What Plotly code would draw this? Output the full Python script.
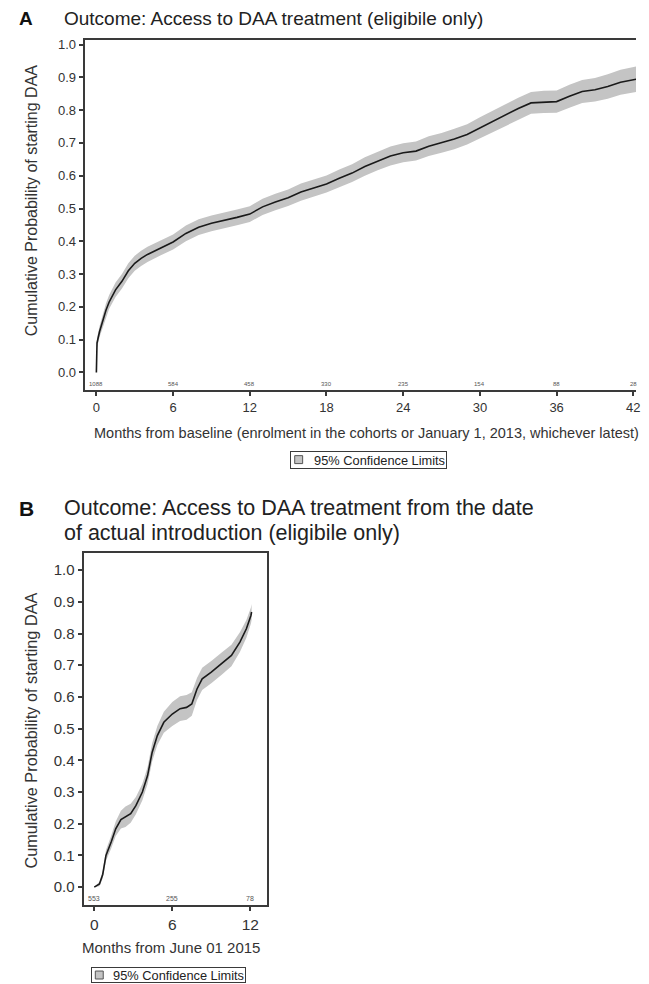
import plotly.graph_objects as go

# ---------------- Panel A data ----------------
a_months = [0, 0.05, 0.25, 0.5, 0.75, 1, 1.5, 2, 2.5, 3, 3.5, 4, 5, 6, 7, 8, 9, 10, 11, 12,
            13, 14, 15, 16, 17, 18, 19, 20, 21, 22, 23, 24, 25, 26, 27, 28, 29, 30, 31, 32,
            33, 34, 35, 36, 37, 38, 39, 40, 41, 42, 42.6]
a_est = [0, 0.09, 0.125, 0.158, 0.19, 0.215, 0.252, 0.278, 0.31, 0.333, 0.348, 0.36, 0.38, 0.398,
         0.424, 0.443, 0.455, 0.463, 0.473, 0.483, 0.505, 0.52, 0.533, 0.55, 0.562, 0.575, 0.592,
         0.608, 0.628, 0.645, 0.66, 0.67, 0.675, 0.69, 0.70, 0.712, 0.726, 0.746, 0.765, 0.785,
         0.805, 0.822, 0.825, 0.826, 0.842, 0.857, 0.862, 0.872, 0.885, 0.893, 0.897]
a_lower = [0, 0.075, 0.108, 0.138, 0.17, 0.194, 0.23, 0.256, 0.287, 0.31, 0.325, 0.337, 0.357, 0.375,
           0.4, 0.419, 0.431, 0.439, 0.449, 0.459, 0.48, 0.495, 0.508, 0.524, 0.536, 0.549, 0.565,
           0.581, 0.6, 0.617, 0.631, 0.641, 0.646, 0.66, 0.67, 0.681, 0.695, 0.714, 0.733, 0.752,
           0.772, 0.789, 0.791, 0.792, 0.807, 0.822, 0.826, 0.835, 0.847, 0.855, 0.858]
a_upper = [0, 0.105, 0.142, 0.178, 0.21, 0.236, 0.274, 0.3, 0.333, 0.356, 0.371, 0.383, 0.403, 0.421,
           0.448, 0.467, 0.479, 0.487, 0.497, 0.507, 0.53, 0.545, 0.558, 0.576, 0.588, 0.601, 0.619,
           0.635, 0.656, 0.673, 0.689, 0.699, 0.704, 0.72, 0.73, 0.743, 0.757, 0.778, 0.797, 0.818,
           0.838, 0.855, 0.859, 0.86, 0.877, 0.892, 0.898, 0.909, 0.923, 0.931, 0.936]
a_risk_months = [0, 6, 12, 18, 24, 30, 36, 42]
a_risk_n = [1088, 584, 458, 330, 235, 154, 88, 28]

# ---------------- Panel B data ----------------
b_months = [0, 0.4, 0.65, 0.9, 1.3, 1.65, 2.05, 2.4, 2.8, 3.2, 3.7, 4.1, 4.45, 4.85, 5.35, 6.0,
            6.6, 7.1, 7.5, 7.9, 8.3, 9.0, 9.8, 10.55, 11.2, 11.7, 12.05, 12.1]
b_est = [0, 0.01, 0.04, 0.1, 0.142, 0.184, 0.213, 0.221, 0.232, 0.257, 0.30, 0.352, 0.425, 0.478,
         0.52, 0.546, 0.563, 0.567, 0.578, 0.625, 0.657, 0.678, 0.705, 0.731, 0.773, 0.815, 0.857, 0.868]
b_lower = [0, 0.003, 0.028, 0.083, 0.122, 0.161, 0.185, 0.19, 0.203, 0.23, 0.274, 0.325, 0.396, 0.448,
           0.487, 0.508, 0.524, 0.528, 0.541, 0.59, 0.622, 0.643, 0.67, 0.697, 0.742, 0.787, 0.832, 0.843]
b_upper = [0, 0.017, 0.052, 0.117, 0.162, 0.207, 0.241, 0.254, 0.263, 0.284, 0.326, 0.379, 0.454, 0.508,
           0.553, 0.584, 0.602, 0.606, 0.615, 0.66, 0.692, 0.713, 0.74, 0.765, 0.804, 0.843, 0.882, 0.893]
b_risk_months = [0, 6, 12]
b_risk_n = [553, 255, 78]

# ---------------- Tick labels / texts ----------------
y_tick_vals = [0.0, 0.1, 0.2, 0.3, 0.4, 0.5, 0.6, 0.7, 0.8, 0.9, 1.0]
a_x_ticks = [0, 6, 12, 18, 24, 30, 36, 42]
b_x_ticks = [0, 6, 12]
a_title = "Outcome: Access to DAA treatment (eligibile only)"
b_title_lines = ["Outcome: Access to DAA treatment from the date",
                 "of actual introduction (eligibile only)"]
y_title = "Cumulative Probability of starting DAA"
a_x_title = "Months from baseline (enrolment in the cohorts or January 1, 2013, whichever latest)"
b_x_title = "Months from June 01 2015"
ci_name = "95% Confidence Limits"

# the page has an 8px body margin; positions below are given in window pixels
OFF = 8
W, H = 649 - 2 * OFF, 984 - OFF
FONT = "Liberation Sans, Arial, Helvetica, sans-serif"
AXC = "#3a3a3a"
BAND = "#c4c4c4"


def px(x):
    return (x - OFF) / W


def py(y):
    return 1 - (y - OFF) / H


fig = go.Figure()


def add_panel(months, est, lo, hi, xa, ya):
    fig.add_trace(go.Scatter(x=months, y=lo, mode="lines", line=dict(width=0, color=BAND),
                             showlegend=False, hoverinfo="skip", xaxis=xa, yaxis=ya))
    fig.add_trace(go.Scatter(x=months, y=hi, mode="lines", line=dict(width=0, color=BAND),
                             fill="tonexty", fillcolor=BAND, name=ci_name, showlegend=False,
                             xaxis=xa, yaxis=ya))
    fig.add_trace(go.Scatter(x=months, y=est, mode="lines", line=dict(width=1.6, color="#1a1a1a"),
                             name="Cumulative probability", showlegend=False, xaxis=xa, yaxis=ya))


add_panel(a_months, a_est, a_lower, a_upper, "x", "y")
add_panel(b_months, b_est, b_lower, b_upper, "x2", "y2")

a_yrange = [-0.052, 1.015]
b_yrange = [-0.055, 1.054]

axis_common = dict(showline=True, linecolor=AXC, linewidth=1.5,
                   ticks="outside", ticklen=5, tickwidth=1.5, tickcolor=AXC,
                   showgrid=False, zeroline=False, color="#333")

fig.update_layout(
    width=W, height=H,
    margin=dict(l=0, r=0, t=0, b=0),
    paper_bgcolor="white", plot_bgcolor="white",
    font=dict(family=FONT, color="#333"),
    showlegend=False,
    # panel A runs off the right edge of the picture, so no right-hand frame line
    xaxis=dict(domain=[px(86), 1.0], range=[-0.86, 42.21], tickvals=a_x_ticks, mirror=True,
               ticklabeloverflow="allow",
               tickfont=dict(size=13), anchor="y", **axis_common),
    yaxis=dict(domain=[py(387.7), py(36.7)], range=a_yrange, tickvals=y_tick_vals, mirror=False,
               tickformat=".1f", tickfont=dict(size=13), anchor="x", **axis_common),
    xaxis2=dict(domain=[px(85), px(269)], range=[-0.76, 13.28], tickvals=b_x_ticks, mirror=True,
                tickfont=dict(size=15.5), anchor="y2", **axis_common),
    yaxis2=dict(domain=[py(904.3), py(551.7)], range=b_yrange, tickvals=y_tick_vals, mirror=True,
                tickformat=".1f", tickfont=dict(size=15), anchor="x2", **axis_common),
)

ann = []
# panel letters and titles
ann.append(dict(x=px(17), y=py(16), xref="paper", yref="paper", text="<b>A</b>", showarrow=False,
                xanchor="left", yanchor="middle", font=dict(size=19, color="#111")))
ann.append(dict(x=px(62), y=py(16), xref="paper", yref="paper", text=a_title, showarrow=False,
                xanchor="left", yanchor="middle", font=dict(size=19, color="#222")))
ann.append(dict(x=px(17), y=py(507), xref="paper", yref="paper", text="<b>B</b>", showarrow=False,
                xanchor="left", yanchor="middle", font=dict(size=21, color="#111")))
for i, line in enumerate(b_title_lines):
    ann.append(dict(x=px(62), y=py(507 + 25 * i), xref="paper", yref="paper", text=line,
                    showarrow=False, xanchor="left", yanchor="middle",
                    font=dict(size=21.5, color="#222")))
# y titles
ann.append(dict(x=px(32), y=py(198), xref="paper", yref="paper", text=y_title, showarrow=False,
                textangle=-90, xanchor="center", yanchor="middle", font=dict(size=16, color="#333")))
ann.append(dict(x=px(31), y=py(730), xref="paper", yref="paper", text=y_title, showarrow=False,
                textangle=-90, xanchor="center", yanchor="middle", font=dict(size=16.3, color="#333")))
# x titles
ann.append(dict(x=px(93), y=py(431), xref="paper", yref="paper", text=a_x_title, showarrow=False,
                xanchor="left", yanchor="middle", font=dict(size=14.5, color="#333")))
ann.append(dict(x=px(172), y=py(947), xref="paper", yref="paper", text=b_x_title, showarrow=False,
                xanchor="center", yanchor="middle", font=dict(size=15, color="#333")))
# numbers at risk
for m, n in zip(a_risk_months, a_risk_n):
    ann.append(dict(x=m, y=a_yrange[0], xref="x", yref="y", text=str(n), showarrow=False,
                    xanchor="center", yanchor="bottom", yshift=1, font=dict(size=6, color="#555")))
for m, n in zip(b_risk_months, b_risk_n):
    ann.append(dict(x=m, y=b_yrange[0], xref="x2", yref="y2", text=str(n), showarrow=False,
                    xanchor="center", yanchor="bottom", yshift=1, font=dict(size=7, color="#555")))

# legend boxes ("95% Confidence Limits") below each panel
shapes = []
for (x0, x1, y0, y1, fs) in [(293, 450, 449, 467, 12.8), (92, 247, 967, 983, 12.8)]:
    ann.append(dict(x=px((x0 + x1) / 2), y=py((y0 + y1) / 2), xref="paper", yref="paper",
                    text=ci_name, showarrow=False, xanchor="center", yanchor="middle",
                    width=x1 - x0 - 4, height=y1 - y0 - 4, align="right", borderpad=1,
                    bordercolor=AXC, borderwidth=1, bgcolor="rgba(0,0,0,0)",
                    font=dict(size=fs, color="#222")))
    cy = (y0 + y1) / 2
    shapes.append(dict(type="rect", xref="paper", yref="paper",
                       x0=px(x0 + 4), x1=px(x0 + 12), y0=py(cy + 4), y1=py(cy - 4),
                       fillcolor=BAND, line=dict(color="#555", width=1)))

fig.update_layout(annotations=ann, shapes=shapes)
fig.write_html("out.html")
